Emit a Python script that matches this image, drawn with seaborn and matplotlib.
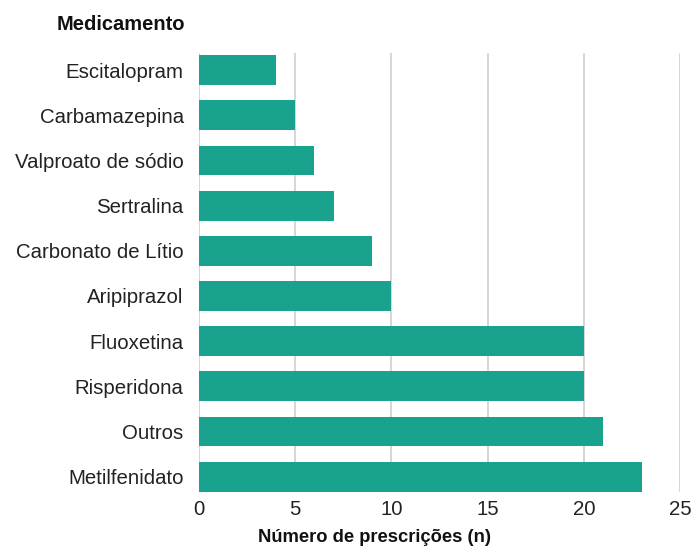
import pandas as pd
import matplotlib.pyplot as plt
import seaborn as sns

medicamentos = ['Escitalopram', 'Carbamazepina', 'Valproato de sódio', 'Sertralina',
                'Carbonato de Lítio', 'Aripiprazol', 'Fluoxetina', 'Risperidona',
                'Outros', 'Metilfenidato']
prescricoes = [4, 5, 6, 7, 9, 10, 20, 20, 21, 23]

df = pd.DataFrame({'Medicamento': medicamentos, 'n': prescricoes})

sns.set_style('white')
plt.rcParams['font.family'] = ['Liberation Sans', 'DejaVu Sans']

fig = plt.figure(figsize=(6.93, 5.49), dpi=100)
ax = fig.add_axes([199 / 693, 57 / 549, 481 / 693, 439 / 549])

sns.barplot(data=df, x='n', y='Medicamento', orient='h', color='#19a38f',
            saturation=1, width=0.66, linewidth=0, ax=ax, zorder=3)

ax.set_xlim(0, 25)
ax.set_ylim(9.34, -0.38)
ax.set_xticks([0, 5, 10, 15, 20, 25])
ax.grid(axis='x', color='#d3d3d3', linewidth=1.3, zorder=0)
ax.set_axisbelow(True)
for s in ax.spines.values():
    s.set_visible(False)
ax.tick_params(axis='y', length=0, pad=11, labelsize=14.7, labelcolor='#222222')
ax.tick_params(axis='x', length=0, pad=6, labelsize=14.7, labelcolor='#222222')
ax.set_xlabel('')
ax.set_ylabel('')

fig.text(185 / 693, 1 - 25 / 549, 'Medicamento', ha='right', va='center',
         fontsize=14.5, fontweight='bold', color='#111111')
fig.text(375 / 693, 1 - 537 / 549, 'Número de prescrições (n)', ha='center',
         va='center', fontsize=13.2, fontweight='bold', color='#111111')

fig.savefig('out.png', dpi=100)
